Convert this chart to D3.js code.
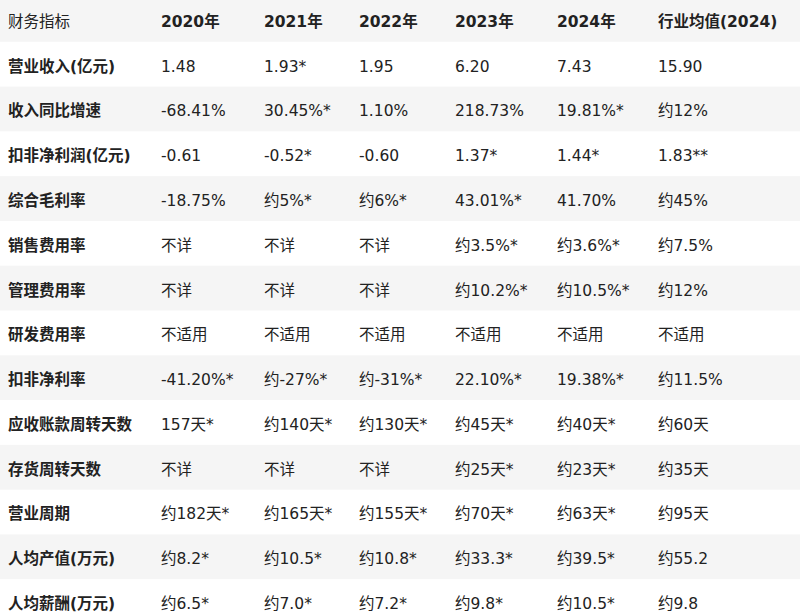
<!DOCTYPE html>
<html><head><meta charset="utf-8">
<script src="https://cdn.jsdelivr.net/npm/d3@7"></script>
<style>body{margin:0;background:#fff}text{font-family:"DejaVu Sans","Noto Sans CJK SC",sans-serif;font-size:15.5px;fill:#222}</style>
</head><body><svg id="c" width="800" height="616"></svg>
<script>
const headers = ["财务指标","2020年","2021年","2022年","2023年","2024年","行业均值(2024)"];
const metrics = ["营业收入(亿元)","收入同比增速","扣非净利润(亿元)","综合毛利率","销售费用率","管理费用率","研发费用率","扣非净利率","应收账款周转天数","存货周转天数","营业周期","人均产值(万元)","人均薪酬(万元)"];
const values = [
  ["1.48","1.93*","1.95","6.20","7.43","15.90"],
  ["-68.41%","30.45%*","1.10%","218.73%","19.81%*","约12%"],
  ["-0.61","-0.52*","-0.60","1.37*","1.44*","1.83**"],
  ["-18.75%","约5%*","约6%*","43.01%*","41.70%","约45%"],
  ["不详","不详","不详","约3.5%*","约3.6%*","约7.5%"],
  ["不详","不详","不详","约10.2%*","约10.5%*","约12%"],
  ["不适用","不适用","不适用","不适用","不适用","不适用"],
  ["-41.20%*","约-27%*","约-31%*","22.10%*","19.38%*","约11.5%"],
  ["157天*","约140天*","约130天*","约45天*","约40天*","约60天"],
  ["不详","不详","不详","约25天*","约23天*","约35天"],
  ["约182天*","约165天*","约155天*","约70天*","约63天*","约95天"],
  ["约8.2*","约10.5*","约10.8*","约33.3*","约39.5*","约55.2"],
  ["约6.5*","约7.0*","约7.2*","约9.8*","约10.5*","约9.8"]
];
const colX = [8,161,264,359,455,557,658];
const svg = d3.select("#c");
const rows = ["header", ...metrics];
const y = d3.scaleBand().domain(rows).range([-3, 624]);
svg.selectAll("rect.band").data(rows).join("rect")
  .attr("x",0).attr("width",800).attr("y",d=>y(d)).attr("height",y.bandwidth()+0.5)
  .attr("fill",(d,i)=>i%2===0?"#f5f5f5":"#fff");
svg.selectAll("text.h").data(headers).join("text")
  .attr("x",(d,i)=>colX[i]).attr("y",y("header")+y.bandwidth()/2+2).attr("dy","0.35em")
  .attr("font-weight",(d,i)=>i===0?"normal":"bold").text(d=>d);
metrics.forEach((m,r)=>{
  const cy = y(m)+y.bandwidth()/2+2;
  const g = svg.append("g");
  g.append("text").attr("x",colX[0]).attr("y",cy).attr("dy","0.35em").attr("font-weight","bold").text(m);
  g.selectAll("text.v").data(values[r]).join("text").attr("class","v")
    .attr("x",(d,i)=>colX[i+1]).attr("y",cy).attr("dy","0.35em").text(d=>d);
});
</script></body></html>
